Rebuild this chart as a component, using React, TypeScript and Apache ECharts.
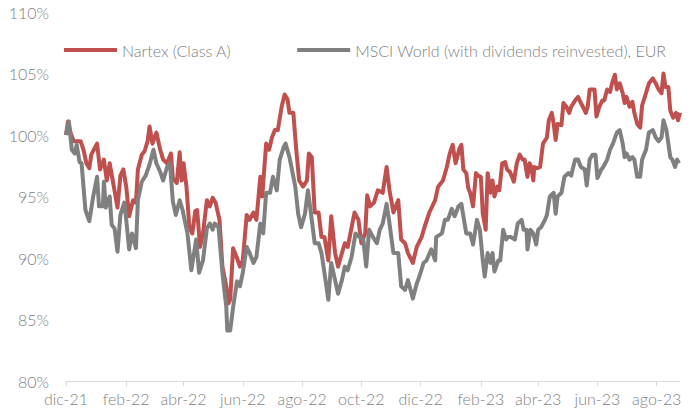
import React, { useEffect, useRef } from "react";
import * as echarts from "echarts";

// Days since 2021-12-01 for each tick (first day of every second month)
const tickDays = [0, 62, 121, 182, 243, 304, 365, 427, 486, 547, 608];
const tickLabels = ["dic-21", "feb-22", "abr-22", "jun-22", "ago-22", "oct-22", "dic-22", "feb-23", "abr-23", "jun-23", "ago-23"];

const seriesNames = ["Nartex (Class A)", "MSCI World (with dividends reinvested), EUR"];

// Nartex (Class A): days since 2021-12-01 and indexed value (%)
const nartexDays = [
  0, 2, 5, 8, 11, 15, 18, 21, 24, 26, 30, 32, 35, 39, 42, 45, 49, 53, 56, 59,
  62, 65, 69, 72, 74, 78, 81, 84, 86, 89, 93, 97, 100, 104, 108, 110, 114, 117, 119, 121,
  124, 127, 130, 133, 135, 138, 141, 145, 148, 151, 154, 158, 161, 165, 167, 169, 172, 176, 179, 182,
  186, 189, 193, 196, 200, 202, 206, 209, 212, 215, 218, 222, 225, 228, 230, 234, 237, 240, 244, 248,
  250, 253, 256, 260, 263, 266, 270, 273, 277, 280, 284, 287, 290, 294, 297, 301, 304, 308, 310, 313,
  317, 321, 326, 330, 333, 337, 342, 345, 349, 352, 357, 361, 366, 369, 374, 380, 383, 388, 392, 395,
  398, 401, 405, 407, 409, 412, 414, 416, 419, 422, 424, 427, 429, 432, 434, 437, 439, 441, 444, 446,
  449, 452, 454, 457, 461, 464, 467, 470, 472, 475, 477, 479, 481, 482, 485, 488, 491, 495, 497, 500,
  502, 504, 506, 510, 512, 515, 518, 520, 524, 527, 530, 532, 535, 537, 539, 542, 544, 546, 549, 552,
  554, 557, 560, 562, 565, 567, 570, 573, 575, 577, 580, 583, 585, 588, 591, 593, 597, 600, 604, 607,
  610, 613, 615, 617, 620, 622, 625, 628, 630, 632,
];
const nartexValues = [
  100.0, 101.1, 100.1, 99.5, 99.5, 99.5, 98.8, 97.7, 97.3, 98.4, 99.0, 99.3, 97.2, 98.0, 96.3, 97.7, 95.9, 94.1, 96.7, 97.2,
  95.8, 93.4, 94.7, 94.5, 97.2, 98.4, 98.7, 99.5, 100.7, 99.3, 100.2, 98.8, 98.0, 97.7, 98.5, 96.5, 96.1, 98.6, 96.3, 97.7,
  95.8, 92.5, 92.0, 93.8, 93.9, 90.9, 92.0, 94.7, 94.2, 94.9, 94.5, 93.1, 89.3, 87.7, 86.3, 86.6, 90.8, 90.0, 89.3, 89.8,
  93.5, 93.1, 93.7, 93.1, 96.6, 95.0, 99.3, 98.8, 99.8, 100.4, 100.4, 102.3, 103.3, 102.9, 101.8, 101.8, 98.8, 96.3, 95.8, 96.3,
  98.5, 98.2, 93.7, 93.7, 91.7, 91.7, 89.8, 93.4, 90.4, 89.3, 90.4, 91.2, 90.9, 92.5, 93.7, 93.1, 91.2, 92.0, 95.1, 94.2,
  94.5, 95.5, 95.3, 97.4, 95.5, 93.7, 94.7, 91.5, 91.2, 90.4, 89.6, 90.9, 91.7, 92.5, 93.7, 94.7, 95.8, 96.3, 97.4, 98.5,
  99.2, 97.7, 98.9, 99.2, 97.2, 96.9, 95.7, 95.3, 94.2, 96.9, 96.7, 96.6, 93.6, 92.3, 96.9, 95.3, 96.3, 95.0, 95.8, 95.5,
  97.7, 97.8, 97.2, 97.0, 96.2, 97.7, 98.4, 98.0, 98.0, 96.6, 97.7, 97.4, 96.3, 97.4, 97.3, 97.4, 99.3, 99.8, 101.2, 101.8,
  100.9, 99.6, 100.9, 100.8, 102.6, 102.3, 101.8, 102.3, 102.8, 103.1, 102.6, 102.3, 101.8, 102.3, 103.7, 103.7, 103.7, 101.5, 102.3, 102.8,
  102.8, 103.7, 103.5, 104.2, 104.9, 103.7, 104.2, 103.4, 102.6, 103.1, 102.3, 102.7, 101.8, 100.9, 100.6, 102.4, 103.4, 104.2, 104.6, 104.2,
  103.7, 103.4, 105.0, 103.9, 103.9, 102.0, 101.4, 101.8, 101.2, 101.8,
];

// MSCI World (with dividends reinvested), EUR: days since 2021-12-01 and indexed value (%)
const msciDays = [
  0, 3, 6, 9, 11, 14, 16, 20, 24, 28, 32, 34, 38, 39, 41, 45, 47, 50, 53, 56,
  60, 62, 65, 68, 72, 74, 78, 82, 86, 90, 93, 97, 100, 104, 107, 110, 113, 117, 120, 125,
  129, 134, 137, 141, 145, 148, 151, 153, 157, 161, 165, 166, 169, 172, 176, 179, 182, 186, 189, 193,
  196, 200, 203, 206, 210, 213, 217, 220, 224, 226, 230, 232, 236, 239, 242, 246, 249, 253, 256, 260,
  263, 266, 270, 273, 277, 280, 284, 287, 290, 294, 298, 302, 306, 309, 312, 316, 320, 323, 326, 330,
  333, 337, 342, 345, 349, 352, 357, 361, 365, 368, 371, 376, 380, 381, 387, 390, 393, 397, 400, 404,
  407, 409, 412, 416, 419, 423, 426, 429, 431, 434, 437, 439, 441, 445, 447, 450, 453, 455, 458, 462,
  465, 469, 471, 474, 475, 478, 481, 484, 486, 489, 493, 495, 498, 502, 504, 506, 510, 513, 517, 520,
  524, 527, 530, 534, 536, 539, 542, 545, 547, 551, 553, 557, 560, 563, 567, 570, 573, 575, 577, 580,
  583, 585, 588, 591, 593, 597, 600, 604, 607, 610, 613, 615, 618, 622, 624, 627, 629, 631,
];
const msciValues = [
  100.0, 101.1, 98.8, 98.5, 99.2, 97.8, 97.7, 93.9, 93.0, 95.0, 96.6, 94.2, 94.2, 96.2, 94.1, 95.0, 92.7, 92.4, 90.5, 93.5,
  94.5, 93.1, 90.7, 92.0, 90.8, 94.7, 96.2, 96.7, 97.6, 98.8, 97.7, 97.0, 96.3, 97.4, 97.7, 94.6, 93.5, 94.7, 93.9, 92.0,
  89.0, 91.5, 88.8, 89.8, 92.4, 92.8, 92.3, 92.8, 92.5, 88.8, 86.0, 84.1, 84.1, 86.0, 88.1, 87.7, 88.8, 90.9, 90.4, 89.6,
  90.1, 92.8, 92.0, 95.3, 95.3, 96.6, 95.5, 98.0, 99.0, 99.3, 98.2, 97.4, 95.8, 93.6, 92.5, 93.6, 95.5, 93.1, 91.2, 91.2,
  90.4, 88.8, 86.6, 89.6, 88.2, 87.1, 88.2, 89.3, 89.0, 90.1, 92.0, 91.7, 91.5, 89.3, 92.3, 91.7, 91.2, 92.3, 92.8, 94.4,
  92.8, 90.4, 90.4, 87.7, 87.4, 88.2, 86.7, 87.9, 88.8, 89.6, 89.8, 90.7, 89.8, 91.7, 92.0, 93.1, 93.1, 94.0, 93.4, 94.2,
  94.4, 93.4, 92.0, 92.0, 91.1, 93.1, 92.3, 89.8, 88.5, 90.4, 89.6, 90.4, 88.9, 89.8, 89.8, 92.3, 91.5, 91.7, 91.7, 91.5,
  92.8, 93.1, 92.3, 92.3, 90.7, 92.3, 92.0, 91.1, 92.3, 92.5, 93.1, 93.5, 95.0, 95.3, 93.6, 95.0, 95.3, 96.6, 96.9, 96.7,
  98.0, 98.0, 97.4, 97.2, 95.9, 98.0, 98.4, 98.4, 96.5, 97.2, 97.4, 98.0, 98.8, 99.3, 100.2, 100.4, 99.3, 98.2, 98.5, 98.0,
  98.2, 98.0, 96.6, 96.6, 98.0, 98.8, 100.2, 100.4, 99.8, 99.5, 99.8, 101.2, 100.4, 98.2, 98.0, 97.4, 98.0, 97.7,
];

const seriesColors = ["#C0504D", "#808080"];

const FONT = "Lato";
const TEXT_COLOR = "#7f7f7f";

export default function App() {
  const ref = useRef<HTMLDivElement>(null);

  useEffect(() => {
    if (!ref.current) return;
    const chart = echarts.init(ref.current, undefined, { renderer: "svg" });
    const nartexData = nartexDays.map((d, i) => [d, nartexValues[i]]);
    const msciData = msciDays.map((d, i) => [d, msciValues[i]]);
    const labelMap: Record<number, string> = {};
    tickDays.forEach((d, i) => (labelMap[d] = tickLabels[i]));

    chart.setOption({
      animation: false,
      backgroundColor: "#ffffff",
      textStyle: { fontFamily: FONT },
      legend: {
        left: 59,
        top: 37,
        itemWidth: 53,
        itemHeight: 4,
        itemGap: 66,
        icon: "rect",
        textStyle: { fontFamily: FONT, fontSize: 16, fontWeight: 300, color: TEXT_COLOR, padding: [0, 0, 0, 0] },
        data: seriesNames,
      },
      grid: { left: 66, right: 9, top: 12, bottom: 31, containLabel: false },
      xAxis: {
        type: "value",
        min: 0,
        max: 632,
        splitLine: { show: false },
        axisLine: { show: true, lineStyle: { color: "#d9d9d9", width: 1 } },
        axisTick: {
          show: true,
          length: 5,
          lineStyle: { color: "#d9d9d9" },
          customValues: tickDays,
        },
        axisLabel: {
          customValues: tickDays,
          formatter: (v: number) => labelMap[v] ?? "",
          fontFamily: FONT,
          fontSize: 16,
          fontWeight: 300,
          color: TEXT_COLOR,
          margin: 9,
        },
      },
      yAxis: {
        type: "value",
        min: 80,
        max: 110,
        interval: 5,
        splitLine: { show: false },
        axisLine: { show: false },
        axisTick: { show: false },
        axisLabel: {
          formatter: (v: number) => `${v}%`,
          fontFamily: FONT,
          fontSize: 16,
          fontWeight: 300,
          color: TEXT_COLOR,
          margin: 17,
        },
      },
      series: [
        {
          name: seriesNames[0],
          type: "line",
          data: nartexData,
          showSymbol: false,
          symbol: "none",
          lineStyle: { color: seriesColors[0], width: 4, join: "round" },
          itemStyle: { color: seriesColors[0] },
        },
        {
          name: seriesNames[1],
          type: "line",
          data: msciData,
          showSymbol: false,
          symbol: "none",
          lineStyle: { color: seriesColors[1], width: 4, join: "round" },
          itemStyle: { color: seriesColors[1] },
        },
      ],
    });
    return () => chart.dispose();
  }, []);

  return (
    <div
      ref={ref}
      style={{ position: "fixed", left: 0, top: 0, width: 689, height: 412 }}
    />
  );
}
